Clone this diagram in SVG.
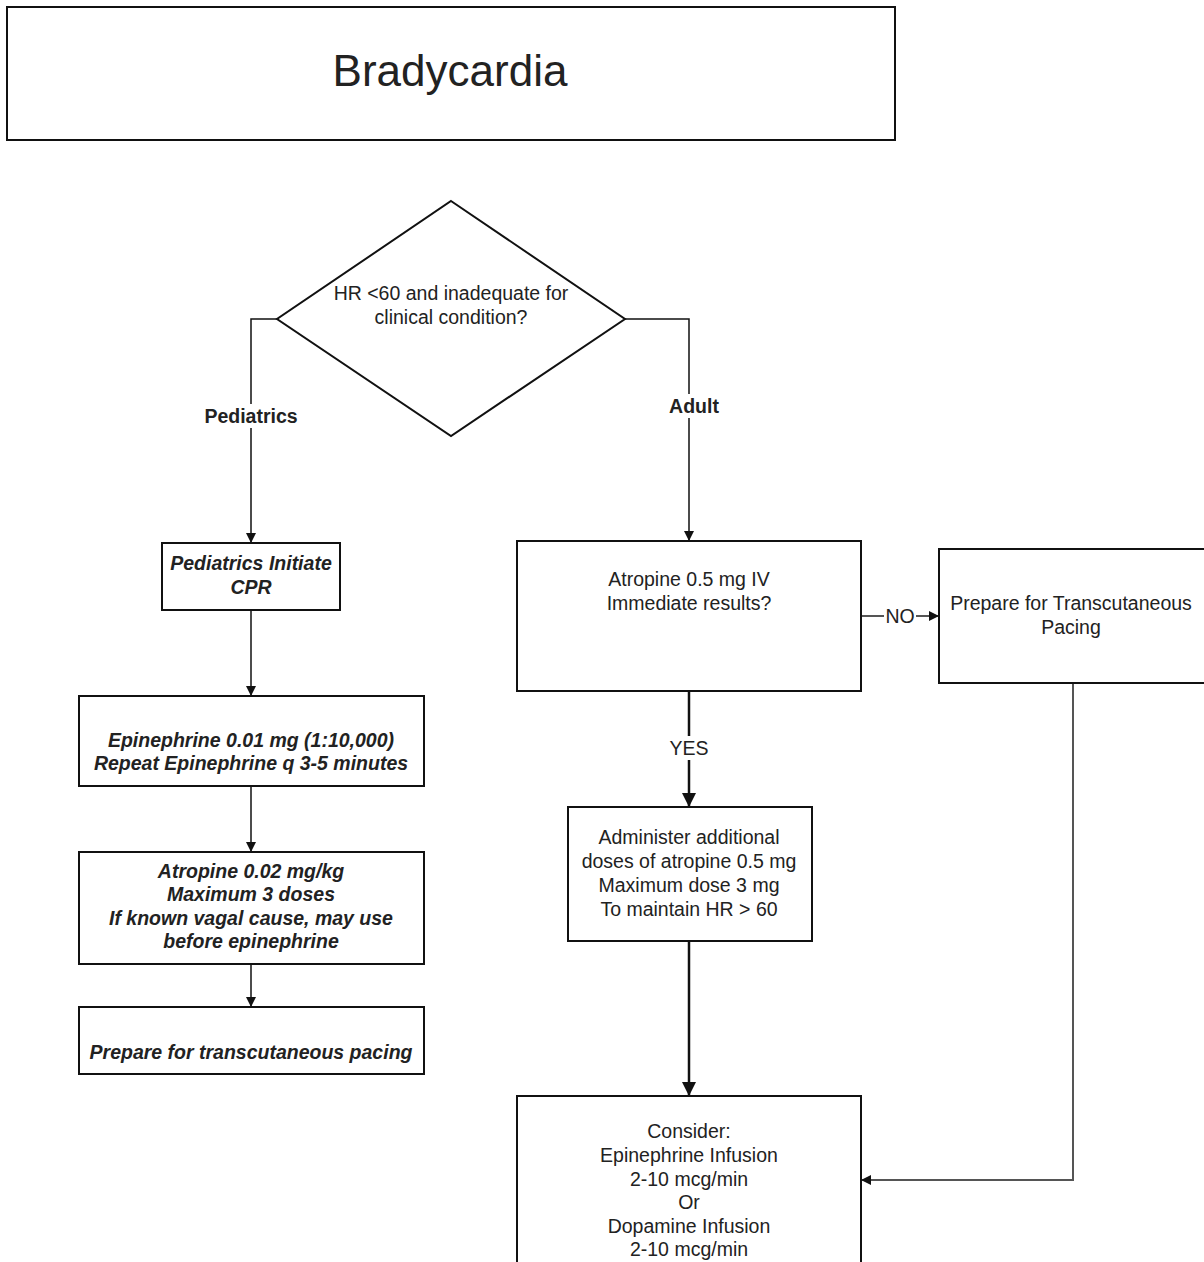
<svg xmlns="http://www.w3.org/2000/svg" width="1204" height="1262" viewBox="0 0 1204 1262">
<defs>
<marker id="arr" markerWidth="10" markerHeight="10" refX="9" refY="5" orient="auto" markerUnits="userSpaceOnUse">
<path d="M0,0 L10,5 L0,10 Z" fill="#111"/>
</marker>
<marker id="arrL" markerWidth="14" markerHeight="14" refX="13" refY="7" orient="auto" markerUnits="userSpaceOnUse">
<path d="M0,0 L14,7 L0,14 Z" fill="#111"/>
</marker>
</defs>
<style>
.box{fill:#fff;stroke:#111;stroke-width:2}
.t{font-family:"Liberation Sans",Arial,sans-serif;font-size:19.5px;fill:#222;text-anchor:middle}
.bi{font-weight:bold;font-style:italic}
.b{font-weight:bold}
.ln{fill:none;stroke:#111;stroke-width:1.5}
.lnT{fill:none;stroke:#111;stroke-width:2.5}
.lnG{fill:none;stroke:#555;stroke-width:2}
</style>
<rect width="1204" height="1262" fill="#fff"/>
<g id="title">
<rect class="box" x="7" y="7" width="888" height="133"/>
<text class="t" x="450" y="86" style="font-size:44px">Bradycardia</text>
</g>
<g id="connectors">
<path class="ln" d="M277,319 H251 V542" marker-end="url(#arr)"/>
<rect x="198" y="404" width="106" height="24" fill="#fff"/>
<text class="t b" x="251" y="423">Pediatrics</text>
<path class="ln" d="M625,319 H689 V540" marker-end="url(#arr)"/>
<rect x="664" y="394" width="60" height="24" fill="#fff"/>
<text class="t b" x="694" y="413">Adult</text>
<path class="ln" d="M251,610 V695" marker-end="url(#arr)"/>
<path class="ln" d="M251,786 V851" marker-end="url(#arr)"/>
<path class="ln" d="M251,964 V1006" marker-end="url(#arr)"/>
<path class="lnG" d="M861,616 H938" marker-end="url(#arr)"/>
<rect x="884" y="604" width="32" height="24" fill="#fff"/>
<text class="t" x="900" y="623">NO</text>
<path class="lnT" d="M689,691 V806" marker-end="url(#arrL)"/>
<rect x="663" y="736" width="52" height="24" fill="#fff"/>
<text class="t" x="689" y="755">YES</text>
<path class="lnT" d="M689,941 V1095" marker-end="url(#arrL)"/>
<path class="lnG" d="M1073,683 V1180 H862" marker-end="url(#arr)"/>
</g>
<g id="decision">
<polygon class="box" points="451,201 625,319 451,436 277,319"/>
<text class="t" x="451" y="300">HR &lt;60 and inadequate for</text>
<text class="t" x="451" y="324">clinical condition?</text>
</g>
<g id="ped-cpr">
<rect class="box" x="162" y="543" width="178" height="67"/>
<text class="t bi" x="251" y="570">Pediatrics Initiate</text>
<text class="t bi" x="251" y="594">CPR</text>
</g>
<g id="ped-epi">
<rect class="box" x="79" y="696" width="345" height="90"/>
<text class="t bi" x="251" y="747">Epinephrine 0.01 mg (1:10,000)</text>
<text class="t bi" x="251" y="770">Repeat Epinephrine q 3-5 minutes</text>
</g>
<g id="ped-atropine">
<rect class="box" x="79" y="852" width="345" height="112"/>
<text class="t bi" x="251" y="878">Atropine 0.02 mg/kg</text>
<text class="t bi" x="251" y="901">Maximum 3 doses</text>
<text class="t bi" x="251" y="925">If known vagal cause, may use</text>
<text class="t bi" x="251" y="948">before epinephrine</text>
</g>
<g id="ped-pacing">
<rect class="box" x="79" y="1007" width="345" height="67"/>
<text class="t bi" x="251" y="1059">Prepare for transcutaneous pacing</text>
</g>
<g id="adult-atropine">
<rect class="box" x="517" y="541" width="344" height="150"/>
<text class="t" x="689" y="586">Atropine 0.5 mg IV</text>
<text class="t" x="689" y="610">Immediate results?</text>
</g>
<g id="adult-pacing">
<rect class="box" x="939" y="549" width="270" height="134"/>
<text class="t" x="1071" y="610">Prepare for Transcutaneous</text>
<text class="t" x="1071" y="634">Pacing</text>
</g>
<g id="adult-additional">
<rect class="box" x="568" y="807" width="244" height="134"/>
<text class="t" x="689" y="844">Administer additional</text>
<text class="t" x="689" y="868">doses of atropine 0.5 mg</text>
<text class="t" x="689" y="892">Maximum dose 3 mg</text>
<text class="t" x="689" y="916">To maintain HR &gt; 60</text>
</g>
<g id="adult-consider">
<rect class="box" x="517" y="1096" width="344" height="180"/>
<text class="t" x="689" y="1138">Consider:</text>
<text class="t" x="689" y="1162">Epinephrine Infusion</text>
<text class="t" x="689" y="1186">2-10 mcg/min</text>
<text class="t" x="689" y="1209">Or</text>
<text class="t" x="689" y="1233">Dopamine Infusion</text>
<text class="t" x="689" y="1256">2-10 mcg/min</text>
</g>
</svg>
